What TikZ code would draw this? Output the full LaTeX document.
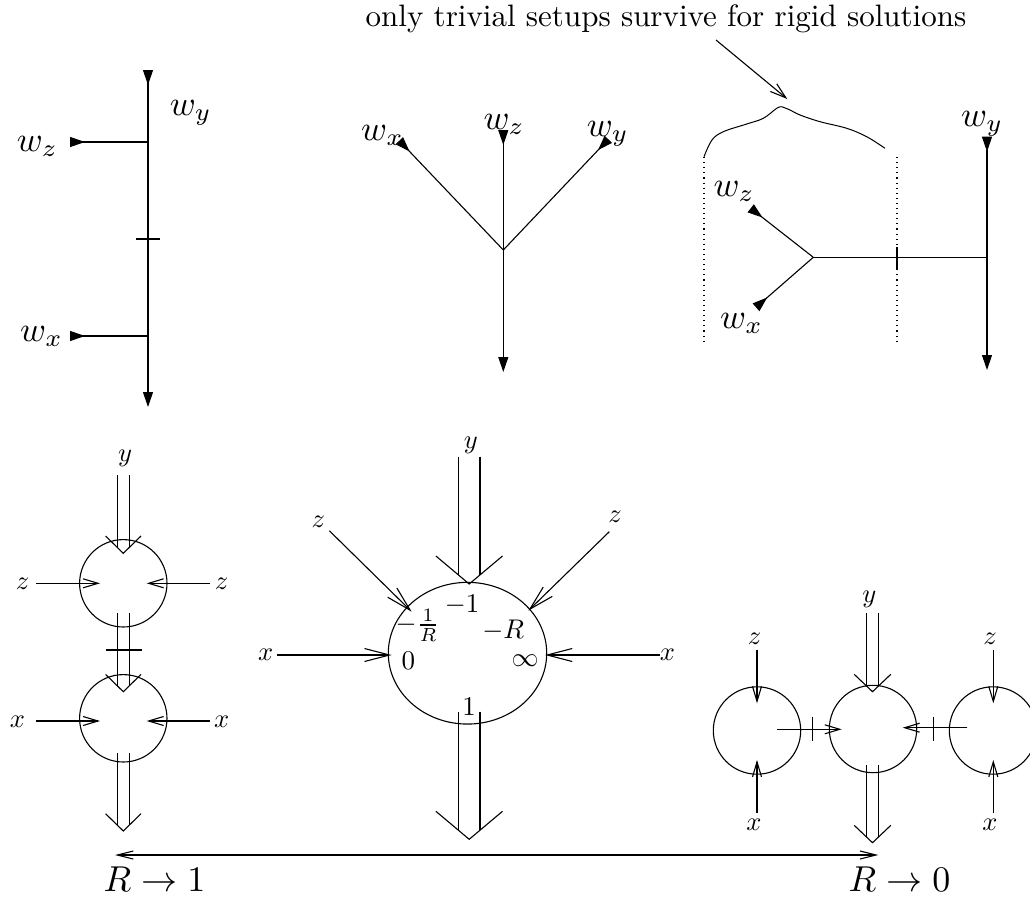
\documentclass[tikz,border=0pt]{standalone}
\usetikzlibrary{arrows.meta,calc,shapes.geometric}
\newcommand\dblarr[5]{% #1 top, #2 tip, #3 half sep, #4 head half width, #5 head length
  \draw ($(#1)+(-#3,0)$) -- ($(#2)+(-#3,-#5*#3/#4)$);
  \draw ($(#1)+(#3,0)$) -- ($(#2)+(#3,-#5*#3/#4)$);
  \draw ($(#2)+(-#4,-#5)$) -- (#2) -- ($(#2)+(#4,-#5)$);
}
\begin{document}
\begin{tikzpicture}[x=1pt,y=-1pt,line width=1.1pt,line join=miter,
  inleg/.style={{Triangle[reversed,length=15pt,width=10pt]}-},
  outleg/.style={-{Triangle[length=15pt,width=10pt]}},
  bothleg/.style={{Triangle[reversed,length=15pt,width=10pt]}-{Triangle[length=15pt,width=10pt]}},
  barb/.style={-{Straight Barb[length=15pt,width=9pt]}},
  bigbarb/.style={-{Straight Barb[length=25pt,width=13pt]}},
  longbarb/.style={{Straight Barb[length=16pt,width=8pt]}-{Straight Barb[length=16pt,width=8pt]}},
  dots/.style={dash pattern=on 1.1pt off 4pt},
  ball/.style={circle,draw,minimum size=87.4pt,inner sep=0pt},
  wlab/.style={inner sep=0pt,scale=3.5},
  lab/.style={inner sep=0pt,scale=2.65},
  elab/.style={inner sep=0pt,scale=2.7},
  biglab/.style={inner sep=0pt,scale=3.6},
  toptext/.style={inner sep=0pt,scale=3.1}]
\useasboundingbox (0,0) rectangle (1030,899);
\clip (0,0) rectangle (1030,899);

% ---------- top text ----------
\node[toptext,anchor=base] (note) at (666,26.5) {only trivial setups survive for rigid solutions};
\coordinate (noteS) at (716,40);
\coordinate (noteE) at (787.3,99);
\draw[-{Straight Barb[length=16pt,width=10pt]}] (noteS) -- (noteE);

% ---------- top-left tree ----------
\coordinate (A1) at (148,70);
\coordinate (A2) at (148,407);
\coordinate (Az) at (148,142);
\coordinate (Azl) at (70,142);
\coordinate (Ax) at (148,336);
\coordinate (Axl) at (70,336);
\coordinate (Ata) at (136,239);
\coordinate (Atb) at (160,239);
\draw[bothleg] (A1) -- (A2);
\draw[inleg] (Azl) -- (Az);
\draw[inleg] (Axl) -- (Ax);
\draw (Ata) -- (Atb);
\node[wlab,anchor=base west] (Awy) at (168,115) {$w_y$};
\node[wlab,anchor=base west] (Awz) at (15,151.7) {$w_z$};
\node[wlab,anchor=base west] (Awx) at (18.3,341.7) {$w_x$};

% ---------- top-middle tree ----------
\coordinate (B0) at (503.3,250);
\coordinate (Bz) at (503.3,130);
\coordinate (Bx) at (399.3,140.7);
\coordinate (By) at (608.3,139.3);
\coordinate (Bo) at (503.3,372);
\draw[inleg] (Bz) -- (B0);
\draw[inleg] (Bx) -- (B0);
\draw[inleg] (By) -- (B0);
\draw[outleg] (B0) -- (Bo);
\node[wlab,anchor=base west] (Bwx) at (359.3,140) {$w_x$};
\node[wlab,anchor=base west] (Bwz) at (481.7,129.3) {$w_z$};
\node[wlab,anchor=base west] (Bwy) at (585,136.7) {$w_y$};

% ---------- top-right tree ----------
\coordinate (D0) at (813.3,257.3);
\coordinate (Dz) at (750.7,208.3);
\coordinate (Dx) at (756,307.3);
\coordinate (Dj) at (987,257.3);
\coordinate (Dt) at (987,136.7);
\coordinate (Db) at (987,370);
\coordinate (Dka) at (897,246.7);
\coordinate (Dkb) at (897,270);
\draw[inleg] (Dz) -- (D0);
\draw[inleg] (Dx) -- (D0);
\draw (D0) -- (Dj);
\draw[bothleg] (Dt) -- (Db);
\draw (Dka) -- (Dkb);
\coordinate (L1a) at (704,157);
\coordinate (L1b) at (704,343);
\coordinate (L2a) at (897,157);
\coordinate (L2b) at (897,343);
\draw[dots] (L1a) -- (L1b);
\draw[dots] (L2a) -- (L2b);
\node[wlab,anchor=base west] (Dwz) at (711.7,196.7) {$w_z$};
\node[wlab,anchor=base west] (Dwx) at (718.3,328.3) {$w_x$};
\node[wlab,anchor=base west] (Dwy) at (959.3,126) {$w_y$};
% brace
\coordinate (brL) at (704,156.7);
\coordinate (brP) at (781.7,106.7);
\coordinate (brR) at (885,148.3);
\draw[line width=1pt] plot[smooth,tension=0.6] coordinates {(brL) (712,140) (723.3,131.7) (746.7,124) (763.3,118.3) (776.7,108.3) (brP)};
\draw[line width=1pt] plot[smooth,tension=0.6] coordinates {(brP) (790,110) (800,115) (820,121.7) (846.7,128.3) (866.7,136.7) (brR)};

% ---------- bottom-left ----------
\node[ball] (C1) at (123.3,583.3) {};
\node[ball] (C2) at (123.3,718.3) {};
\coordinate (yT1) at (123.3,475);
\coordinate (yP1) at (123.3,553.3);
\coordinate (mT1) at (123.3,613.3);
\coordinate (mP1) at (123.3,691.7);
\coordinate (oT1) at (123.3,753.3);
\coordinate (oP1) at (123.3,831);
\dblarr{yT1}{yP1}{6}{17.7}{17.3}
\dblarr{mT1}{mP1}{6}{17.7}{17.3}
\dblarr{oT1}{oP1}{6}{17.7}{17.3}
\coordinate (k1a) at (106,650);
\coordinate (k1b) at (141.7,650);
\draw (k1a) -- (k1b);
\coordinate (zL1s) at (36,583.3);
\coordinate (zL1e) at (100,583.3);
\coordinate (zR1s) at (210,583.3);
\coordinate (zR1e) at (146.7,583.3);
\coordinate (xL1s) at (36,721);
\coordinate (xL1e) at (100,721);
\coordinate (xR1s) at (210,721);
\coordinate (xR1e) at (146.7,721);
\draw[barb] (zL1s) -- (zL1e);
\draw[barb] (zR1s) -- (zR1e);
\draw[barb] (xL1s) -- (xL1e);
\draw[barb] (xR1s) -- (xR1e);
\node[lab] (ly1) at (125,458.3) {$y$};
\node[lab] (lzl1) at (22.5,584) {$z$};
\node[lab] (lzr1) at (221.7,584) {$z$};
\node[lab] (lxl1) at (17.5,721.7) {$x$};
\node[lab] (lxr1) at (221.7,721.7) {$x$};

% ---------- bottom-middle ----------
\node[ellipse,draw,minimum width=158.4pt,minimum height=141.7pt,inner sep=0pt] (E) at (467.5,653.2) {};
\coordinate (yT2) at (469.2,456.7);
\coordinate (yP2) at (469.2,584);
\coordinate (oT2) at (469.2,711.7);
\coordinate (oP2) at (469.2,839.3);
\dblarr{yT2}{yP2}{10.8}{33.3}{28}
\dblarr{oT2}{oP2}{10.8}{33.3}{28}
\coordinate (zL2s) at (329.3,530.7);
\coordinate (zL2e) at (411.7,611.7);
\coordinate (zR2s) at (609.3,531.7);
\coordinate (zR2e) at (528.3,610.7);
\coordinate (xL2s) at (276.7,655);
\coordinate (xL2e) at (391.7,655);
\coordinate (xR2s) at (660,655);
\coordinate (xR2e) at (545,655);
\draw[bigbarb] (zL2s) -- (zL2e);
\draw[bigbarb] (zR2s) -- (zR2e);
\draw[bigbarb] (xL2s) -- (xL2e);
\draw[bigbarb] (xR2s) -- (xR2e);
\node[lab] (ly2) at (470.8,445.8) {$y$};
\node[lab] (lzl2) at (318.3,521.7) {$z$};
\node[lab] (lzr2) at (615,516.7) {$z$};
\node[lab] (lxl2) at (265.8,655) {$x$};
\node[lab] (lxr2) at (667.5,655) {$x$};
\node[elab] (em1) at (462.2,605.3) {$-1$};
\node[elab] (emr) at (417.5,625) {$-\frac{1}{R}$};
\node[elab] (emR) at (503.3,630) {$-R$};
\node[elab] (e0) at (408.3,660.8) {$0$};
\node[elab] (einf) at (525,660.8) {$\infty$};
\node[elab] (e1) at (469,707) {$1$};

% ---------- bottom-right ----------
\node[ball] (C3) at (757,730.5) {};
\node[ball] (C4) at (873,729) {};
\node[ball] (C5) at (993,730.5) {};
\coordinate (yT3) at (872.5,613.3);
\coordinate (yP3) at (872.5,691.7);
\coordinate (oT3) at (872.5,765);
\coordinate (oP3) at (872.5,842.7);
\dblarr{yT3}{yP3}{5.8}{18.3}{17.4}
\dblarr{oT3}{oP3}{5.8}{18.3}{17.4}
\coordinate (zL3s) at (757,650);
\coordinate (zL3e) at (757,703.3);
\coordinate (zR3s) at (993.3,650);
\coordinate (zR3e) at (993.3,703.3);
\coordinate (xL3s) at (757,813.3);
\coordinate (xL3e) at (757,760);
\coordinate (xR3s) at (993.3,813.3);
\coordinate (xR3e) at (993.3,760);
\draw[barb] (zL3s) -- (zL3e);
\draw[barb] (zR3s) -- (zR3e);
\draw[barb] (xL3s) -- (xL3e);
\draw[barb] (xR3s) -- (xR3e);
\coordinate (hLs) at (777.3,729.3);
\coordinate (hLe) at (841.7,729.3);
\coordinate (hRs) at (967.3,727.7);
\coordinate (hRe) at (902.7,727.7);
\draw[barb] (hLs) -- (hLe);
\draw[barb] (hRs) -- (hRe);
\coordinate (k3a) at (812.7,716.7);
\coordinate (k3b) at (812.7,740.7);
\coordinate (k4a) at (933.3,716.7);
\coordinate (k4b) at (933.3,740.7);
\draw (k3a) -- (k3b);
\draw (k4a) -- (k4b);
\node[lab] (ly3) at (869.3,599) {$y$};
\node[lab] (lzl3) at (754.7,638.3) {$z$};
\node[lab] (lzr3) at (990,638.3) {$z$};
\node[lab] (lxl3) at (754,825) {$x$};
\node[lab] (lxr3) at (990,825) {$x$};

% ---------- bottom axis ----------
\coordinate (axL) at (115,855);
\coordinate (axR) at (878.3,855);
\draw[longbarb] (axL) -- (axR);
\node[biglab,anchor=base west] (R1) at (101.7,891.7) {$R\to 1$};
\node[biglab,anchor=base west] (R0) at (846.7,891.7) {$R\to 0$};
\end{tikzpicture}
\end{document}
